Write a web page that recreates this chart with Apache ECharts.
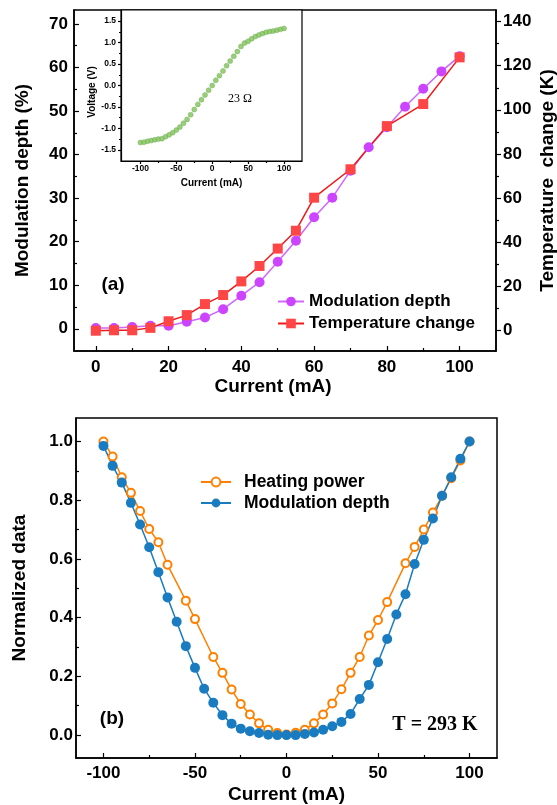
<!DOCTYPE html>
<html>
<head>
<meta charset="utf-8">
<script src="https://cdn.jsdelivr.net/npm/echarts@6/dist/echarts.min.js"></script>
<style>
  html, body { margin: 0; padding: 0; background: #fff; }
  #chart { width: 557px; height: 805px; }
</style>
</head>
<body>
<div id="chart"></div>
<script>
// (a) 调制深度与温度变化
const currentA = [0, 5, 10, 15, 20, 25, 30, 35, 40, 45, 50, 55, 60, 65, 70, 75, 80, 85, 90, 95, 100];
const modDepth = [0.2, 0.2, 0.4, 0.7, 0.7, 1.6, 2.6, 4.5, 7.6, 10.7, 15.4, 20.2, 25.6, 30.1, 36.3, 41.7, 46.3, 51.0, 55.1, 59.1, 62.6];
const tempCurrent = [0, 5, 10, 15, 20, 25, 30, 35, 40, 45, 50, 55, 60, 70, 80, 90, 100];
const tempChange = [-0.3, -0.1, -0.1, 1.0, 4.0, 6.8, 11.8, 15.9, 22.1, 29.1, 37.0, 45.1, 60.1, 73.0, 92.6, 102.6, 123.8];

// 插图 I-V
const insetCurrent = [-100, -95, -90, -85, -80, -75, -70, -65, -60, -55, -50, -45, -40, -35, -30, -25, -20, -15, -10, -5,
  0, 5, 10, 15, 20, 25, 30, 35, 40, 45, 50, 55, 60, 65, 70, 75, 80, 85, 90, 95, 100];
const insetVoltage = [-1.33, -1.32, -1.30, -1.285, -1.265, -1.25, -1.24, -1.195, -1.15, -1.10, -1.04, -0.97, -0.88, -0.79, -0.68, -0.56, -0.44, -0.33, -0.22, -0.11,
  0.0, 0.12, 0.23, 0.34, 0.46, 0.57, 0.68, 0.79, 0.91, 0.99, 1.03, 1.09, 1.14, 1.18, 1.21, 1.24, 1.26, 1.27, 1.29, 1.31, 1.33];

// (b) 归一化数据
const heatCurrent = [-100, -95, -90, -85, -80, -75, -70, -65, -55, -50, -40, -35, -30, -25, -20, -15, -10, -5,
  0, 5, 10, 15, 20, 25, 30, 35, 40, 45, 50, 55, 65, 70, 75, 80, 85, 90, 95, 100];
const heatPower = [1.0, 0.949, 0.878, 0.825, 0.763, 0.702, 0.657, 0.580, 0.458, 0.395, 0.266, 0.212, 0.155, 0.106, 0.070, 0.040, 0.018, 0.007,
  0.002, 0.008, 0.018, 0.040, 0.070, 0.108, 0.156, 0.212, 0.266, 0.339, 0.392, 0.453, 0.585, 0.641, 0.700, 0.758, 0.815, 0.875, 0.935, 1.0];
const normCurrent = insetCurrent;
const normDepth = [0.985, 0.917, 0.860, 0.791, 0.717, 0.640, 0.555, 0.469, 0.386, 0.303, 0.229, 0.158, 0.110, 0.068, 0.039, 0.022, 0.013, 0.007, 0.001, 0.0,
  0.0, 0.0, 0.004, 0.009, 0.018, 0.030, 0.045, 0.072, 0.123, 0.171, 0.248, 0.327, 0.411, 0.480, 0.583, 0.665, 0.738, 0.815, 0.878, 0.941, 1.0];

// 刻度
const topXTicks = [0, 20, 40, 60, 80, 100];
const topXMinor = [10, 30, 50, 70, 90];
const leftTicks = [0, 10, 20, 30, 40, 50, 60, 70];
const leftMinor = [5, 15, 25, 35, 45, 55, 65];
const rightTicks = [0, 20, 40, 60, 80, 100, 120, 140];
const rightMinor = [10, 30, 50, 70, 90, 110, 130];
const insetXTicks = [-100, -50, 0, 50, 100];
const insetXMinor = [-75, -25, 25, 75];
const insetYTicks = [-1.5, -1.0, -0.5, 0.0, 0.5, 1.0, 1.5];
const insetYMinor = [-1.25, -0.75, -0.25, 0.25, 0.75, 1.25];
const botXTicks = [-100, -50, 0, 50, 100];
const botXMinor = [-75, -25, 25, 75];
const botYTicks = [0, 0.2, 0.4, 0.6, 0.8, 1.0];
const botYMinor = [0.1, 0.3, 0.5, 0.7, 0.9];

const FONT = '"Liberation Sans", Arial, sans-serif';
const pair = (xs, ys) => xs.map((x, i) => [x, ys[i]]);

// 主刻度轴
function axis(gridIndex, min, max, position, ticks, o) {
  return {
    type: 'value', gridIndex, min, max, position,
    splitLine: { show: false },
    axisLine: { show: true, onZero: false, lineStyle: { color: '#000', width: o.lw || 1.5 } },
    axisTick: { show: true, inside: o.inside, length: o.len || 5, customValues: ticks, lineStyle: { color: '#000', width: 1.2 } },
    axisLabel: {
      customValues: ticks, color: '#000', fontFamily: FONT, fontWeight: 'bold',
      fontSize: o.fs || 17, margin: o.margin, formatter: o.fmt
    },
    name: o.name || '', nameLocation: 'middle', nameGap: o.gap, nameRotate: o.rotate,
    nameMoveOverlap: o.move !== undefined ? o.move : true,
    nameTextStyle: { color: '#000', fontFamily: FONT, fontWeight: 'bold', fontSize: o.nfs || 19, padding: o.pad || 0 }
  };
}
// 次刻度轴
function minorAxis(gridIndex, min, max, position, ticks, inside, len) {
  return {
    type: 'value', gridIndex, min, max, position,
    splitLine: { show: false },
    axisLine: { show: false, onZero: false },
    axisLabel: { show: false },
    axisTick: { show: true, inside, length: len, customValues: ticks, lineStyle: { color: '#000', width: 1.2 } }
  };
}

const fix1 = v => v.toFixed(1);

const option = {
  animation: false,
  backgroundColor: '#fff',
  grid: [
    { left: 74, top: 10, width: 422, height: 341, outerBoundsMode: 'none', show: true, borderColor: '#000', borderWidth: 1.5, backgroundColor: 'transparent' },
    { left: 121, top: 10, width: 181, height: 151, outerBoundsMode: 'none', show: true, borderColor: '#000', borderWidth: 1.2, backgroundColor: '#fff' },
    { left: 76, top: 418, width: 421, height: 340, outerBoundsMode: 'none', show: true, borderColor: '#000', borderWidth: 1.5, backgroundColor: 'transparent' }
  ],
  xAxis: [
    axis(0, -6, 110, 'bottom', topXTicks, { inside: true, margin: 8, name: 'Current (mA)', gap: 25, pad: [0, 24, 0, 0] }),
    minorAxis(0, -6, 110, 'bottom', topXMinor, true, 3),
    axis(1, -127, 125, 'bottom', insetXTicks, { inside: false, len: 3, lw: 1.2, fs: 8.5, margin: 3, name: 'Current (mA)', gap: 17, nfs: 10 }),
    minorAxis(1, -127, 125, 'bottom', insetXMinor, false, 2),
    axis(2, -115, 115, 'bottom', botXTicks, { inside: true, margin: 7, name: 'Current (mA)', gap: 27 }),
    minorAxis(2, -115, 115, 'bottom', botXMinor, true, 3)
  ],
  yAxis: [
    axis(0, -5.1, 73.2, 'left', leftTicks, { inside: true, margin: 6, name: 'Modulation depth (%)', gap: 42, rotate: 90 }),
    axis(0, -9.5, 145.3, 'right', rightTicks, { inside: false, margin: 7, name: 'Temperature  change (K)', gap: 42, rotate: 90, move: false }),
    minorAxis(0, -5.1, 73.2, 'left', leftMinor, true, 3),
    minorAxis(0, -9.5, 145.3, 'right', rightMinor, false, 3),
    axis(1, -1.76, 1.76, 'left', insetYTicks, { inside: false, len: 3, lw: 1.2, fs: 8.5, margin: 5, fmt: fix1, name: 'Voltage (V)', gap: 22, nfs: 10, rotate: 90, pad: [0, 13, 0, 0] }),
    minorAxis(1, -1.76, 1.76, 'left', insetYMinor, false, 2),
    axis(2, -0.078, 1.08, 'left', botYTicks, { inside: true, margin: 3, fmt: fix1, name: 'Normalized data', gap: 47, rotate: 90 }),
    minorAxis(2, -0.078, 1.08, 'left', botYMinor, true, 3)
  ],
  legend: [
    {
      data: ['Modulation depth', 'Temperature change'],
      orient: 'vertical', left: 277, top: 293, padding: 0, itemWidth: 26, itemHeight: 12, itemGap: 5,
      textStyle: { color: '#000', fontFamily: FONT, fontWeight: 'bold', fontSize: 17 }
    },
    {
      data: ['Heating power', 'Modulation depth '],
      orient: 'vertical', left: 200, top: 473, padding: 0, itemWidth: 30, itemHeight: 11, itemGap: 3,
      textStyle: { color: '#000', fontFamily: FONT, fontWeight: 'bold', fontSize: 17.5, padding: [0, 0, 0, 8] }
    }
  ],
  series: [
    {
      name: 'Modulation depth', type: 'line', xAxisIndex: 0, yAxisIndex: 0,
      data: pair(currentA, modDepth),
      symbol: 'circle', symbolSize: 10,
      itemStyle: { color: '#cc44ff' },
      lineStyle: { color: '#d066ff', width: 1.5 }
    },
    {
      name: 'Temperature change', type: 'line', xAxisIndex: 0, yAxisIndex: 1,
      data: pair(tempCurrent, tempChange),
      symbol: 'rect', symbolSize: 10,
      itemStyle: { color: '#ff4646' },
      lineStyle: { color: '#f01818', width: 1.5 }
    },
    {
      name: 'IV', type: 'scatter', xAxisIndex: 2, yAxisIndex: 4,
      data: pair(insetCurrent, insetVoltage),
      symbol: 'circle', symbolSize: 5,
      itemStyle: { color: '#80c35a', borderColor: '#6aa84a', borderWidth: 0.5 }
    },
    {
      name: 'Heating power', type: 'line', xAxisIndex: 4, yAxisIndex: 6,
      data: pair(heatCurrent, heatPower),
      symbol: 'emptyCircle', symbolSize: 8,
      itemStyle: { color: '#ff8000', borderColor: '#ff8000', borderWidth: 1.5 },
      lineStyle: { color: '#ff8000', width: 1.5 }
    },
    {
      name: 'Modulation depth ', type: 'line', xAxisIndex: 4, yAxisIndex: 6,
      data: pair(normCurrent, normDepth),
      symbol: 'circle', symbolSize: 10,
      itemStyle: { color: '#1a7cc0' },
      lineStyle: { color: '#1a7cc0', width: 1.5 }
    }
  ],
  graphic: [
    { type: 'text', x: 113, y: 285, style: { text: '(a)', font: 'bold 19px ' + FONT, fill: '#000', textAlign: 'center', textVerticalAlign: 'middle' } },
    { type: 'text', x: 112, y: 719, style: { text: '(b)', font: 'bold 19px ' + FONT, fill: '#000', textAlign: 'center', textVerticalAlign: 'middle' } },
    { type: 'text', x: 435, y: 725, style: { text: 'T = 293 K', font: 'bold 20px "Liberation Serif", "Times New Roman", serif', fill: '#000', textAlign: 'center', textVerticalAlign: 'middle' } },
    { type: 'text', x: 240, y: 99, z: 10, style: { text: '23 Ω', font: '12px "Liberation Serif", "Times New Roman", serif', fill: '#000', textAlign: 'center', textVerticalAlign: 'middle' } }
  ]
};

const chart = echarts.init(document.getElementById('chart'));
chart.setOption(option);
window.addEventListener('resize', () => chart.resize());
</script>
</body>
</html>
